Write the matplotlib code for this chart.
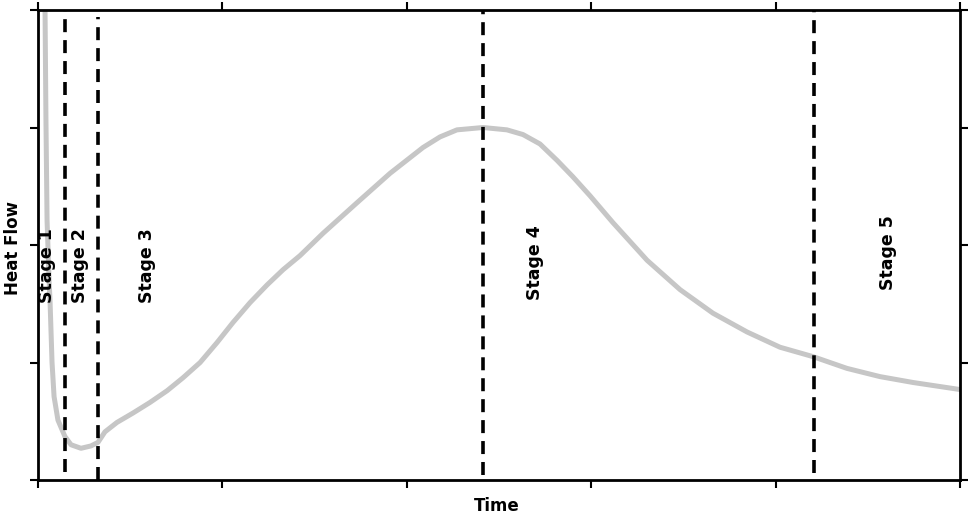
import matplotlib.pyplot as plt

# Curva de fluxo de calor
time = [0.033, 0.038, 0.043, 0.049, 0.060, 0.065, 0.076, 0.087, 0.108, 0.146,
        0.179, 0.233, 0.287, 0.325, 0.363, 0.428, 0.515, 0.607, 0.700, 0.786,
        0.879, 0.971, 1.057, 1.150, 1.242, 1.329, 1.421, 1.546, 1.730, 1.909,
        2.088, 2.180, 2.272, 2.413, 2.543, 2.630, 2.722, 2.815, 2.901, 2.993,
        3.118, 3.303, 3.482, 3.660, 3.845, 4.024, 4.203, 4.387, 4.566, 4.745,
        5.000]
heat_flow = [4.26, 4.00, 3.06, 2.21, 1.70, 1.53, 1.00, 0.71, 0.51, 0.37,
             0.30, 0.27, 0.29, 0.32, 0.41, 0.49, 0.57, 0.66, 0.76, 0.87,
             1.00, 1.17, 1.34, 1.51, 1.66, 1.79, 1.91, 2.10, 2.36, 2.61,
             2.83, 2.92, 2.98, 3.00, 2.98, 2.94, 2.86, 2.72, 2.58, 2.42,
             2.19, 1.87, 1.62, 1.42, 1.26, 1.13, 1.05, 0.95, 0.88, 0.83,
             0.77]

# Limites dos estágios (linhas tracejadas)
stage_bounds = [0.146, 0.325, 2.413, 4.208]
bound_ymin = [0.068, 0.0, 0.04, 0.06]
bound_ymax = [4.0, 3.94, 4.0, 4.0]

# Rótulos dos estágios
stage_labels = ['Stage 1', 'Stage 2', 'Stage 3', 'Stage 4', 'Stage 5']
label_x = [0.05, 0.228, 0.59, 2.695, 4.61]
label_y = [1.51, 1.51, 1.51, 1.53, 1.62]

fig = plt.figure(figsize=(9.7, 5.13), dpi=100)
ax = fig.add_axes([0.0392, 0.0643, 0.9505, 0.9162])

ax.plot(time, heat_flow, color='#c6c6c6', lw=3.6, solid_capstyle='round',
        solid_joinstyle='round', zorder=2)

for xb, y0, y1 in zip(stage_bounds, bound_ymin, bound_ymax):
    ax.plot([xb, xb], [y0, y1], color='black', lw=2.6, dashes=(3.6, 2.2), zorder=3)

for lab, xl, yl in zip(stage_labels, label_x, label_y):
    ax.text(xl, yl, lab, rotation=90, ha='center', va='bottom',
            fontsize=12.5, fontweight='bold', family='DejaVu Sans', zorder=4)

ax.set_xlim(0, 5)
ax.set_ylim(0, 4)
ax.set_xticks([0, 1, 2, 3, 4, 5])
ax.set_yticks([0, 1, 2, 3, 4])
ax.set_xticklabels([])
ax.set_yticklabels([])
ax.tick_params(direction='out', length=6, width=1.5, top=True, right=True,
               bottom=True, left=True)
for sp in ax.spines.values():
    sp.set_linewidth(2)

ax.set_xlabel('Time', fontsize=12, fontweight='bold', family='DejaVu Sans')
ax.set_ylabel('Heat Flow', fontsize=12, fontweight='bold', family='DejaVu Sans')
ax.xaxis.set_label_coords(0.498, -0.036)
ax.yaxis.set_label_coords(-0.0174, 0.494)

fig.savefig('out.png', dpi=100)
